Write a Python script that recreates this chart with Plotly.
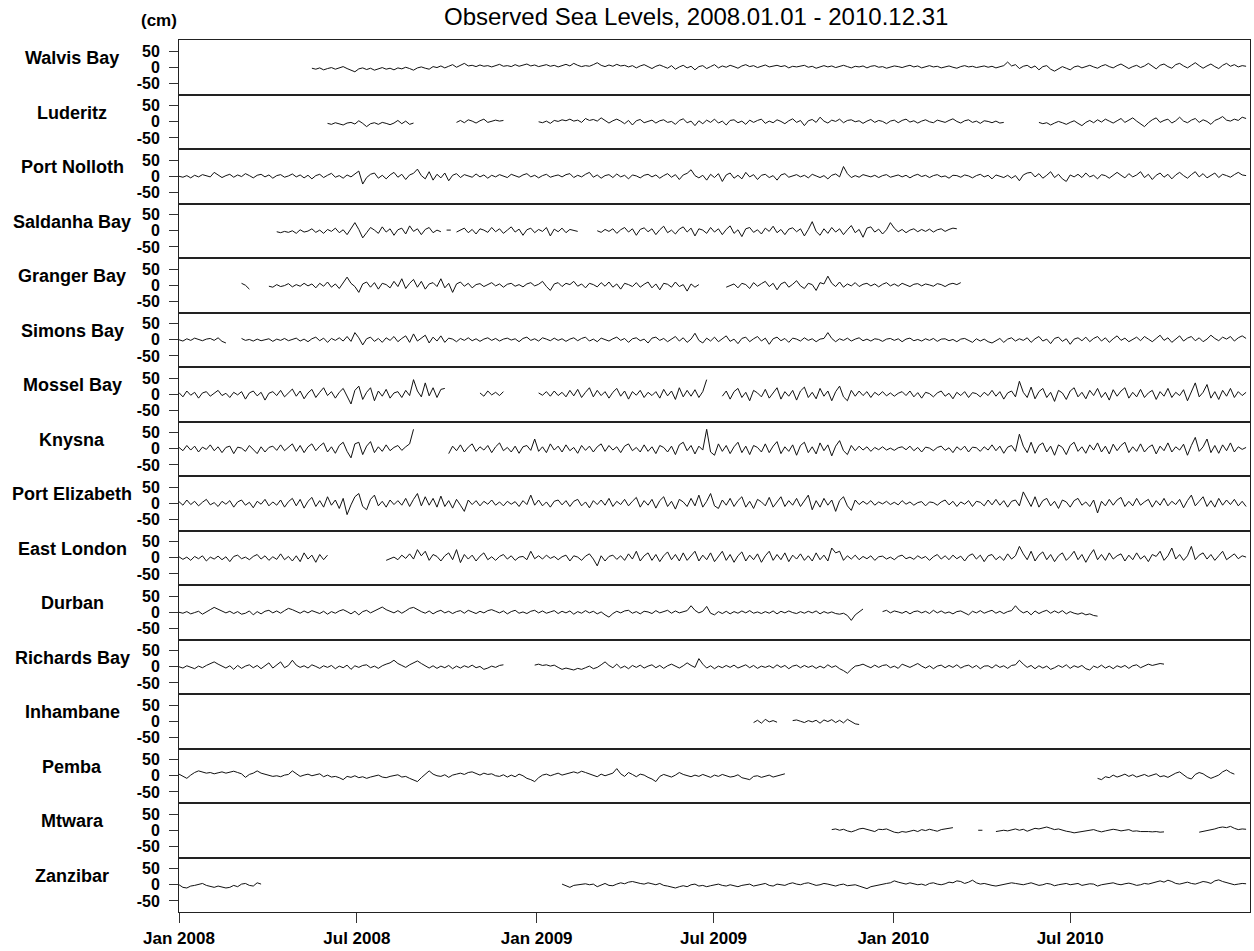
import plotly.graph_objects as go
from plotly.subplots import make_subplots
import pandas as pd

# ---------------- data (cm), sampled every 4 days from 2008-01-01 ----------------
N = 274
dates = pd.date_range("2008-01-01", periods=N, freq="4D")

stations = ["Walvis Bay", "Luderitz", "Port Nolloth", "Saldanha Bay", "Granger Bay",
            "Simons Bay", "Mossel Bay", "Knysna", "Port Elizabeth", "East London",
            "Durban", "Richards Bay", "Inhambane", "Pemba", "Mtwara", "Zanzibar"]

x_tick_dates = ["2008-01-01", "2008-07-01", "2009-01-01", "2009-07-01", "2010-01-01", "2010-07-01"]
x_tick_labels = ["Jan 2008", "Jul 2008", "Jan 2009", "Jul 2009", "Jan 2010", "Jul 2010"]
y_tick_vals = [50, 0, -50]
y_tick_labels = ["50", "0", "-50"]

# each station: list of (start index, values)
walvis = [(34, [-3,-6,-2,-8,-4,-1,-6,-3,2,-4,
                -8,-14,-5,-2,-7,-3,-9,-4,-1,-6,
                -3,-8,-2,-5,0,-4,-9,-2,1,-3,
                -6,2,-1,4,-2,3,8,0,5,12,
                4,6,2,7,3,5,1,6,9,3,
                5,2,8,3,6,10,4,7,2,5,
                8,3,6,1,5,9,4,12,6,2,
                5,3,8,14,6,2,7,3,9,4,
                6,1,5,-2,4,8,2,-4,3,7,
                2,-3,5,-6,1,6,-2,3,-8,2,
                5,-4,2,8,-2,4,0,6,2,-3,
                4,8,2,5,-1,4,7,1,3,6,
                2,5,-2,3,1,4,6,0,3,-3,
                2,5,1,4,-1,3,6,2,-2,3,
                1,4,-2,3,5,0,2,-3,1,4,
                2,-1,3,6,1,4,-2,2,5,1,
                3,-2,2,4,0,-3,2,5,1,3,
                -1,2,4,0,3,-2,1,5,16,4,
                8,-4,3,6,-2,4,-8,2,5,-6,
                -12,-5,2,-3,-8,1,4,-2,3,6,
                1,-3,4,8,2,-2,5,10,3,-4,
                2,6,-1,4,12,3,-5,6,10,2,
                -3,8,12,4,-2,6,14,5,-3,4,
                10,2,-4,6,12,3,8,1,5,3])]

luderitz = [(38, [-5,-8,-3,-6,-10,-4,-2,-7,3,-5,-15,-6,-3,-8,-2,-5,-9,-4,4,-6,2,-8,-4]),
            (71, [-2,4,-3,6,2,-4,3,8,-2,1,5,2,4]),
            (92, [0,-3,2,-5,4,1,6,3,8,2,
                  5,-2,10,4,7,2,12,5,-4,3,
                  8,2,-6,4,-10,3,7,-3,2,5,
                  -4,3,6,-2,1,-8,4,9,-3,2,
                  -12,3,-6,5,-2,8,-4,2,-10,4,
                  6,-3,2,-8,5,-2,4,8,-5,2,
                  -3,6,1,-6,3,9,-2,4,-12,3,
                  7,-2,14,2,-4,5,1,8,-3,4,
                  6,0,3,-5,2,7,-2,4,1,-6,
                  2,5,-3,4,8,-1,3,-4,2,6,
                  0,-3,5,2,-2,4,9,1,-4,3,
                  6,-2,2,-5,3,1,-3,2,-4,-2]),
            (220, [-2,-6,-3,-10,-4,1,-3,-8,-2,3,
                   -5,-12,-2,4,-3,6,-1,8,2,-4,
                   3,10,-2,5,12,2,-6,-15,-3,6,
                   12,-2,4,8,-4,3,14,2,-3,5,
                   10,-2,6,1,-8,4,9,16,5,2,
                   8,4,14,10])]

port_nolloth = [(0, [0,-3,2,-5,3,-2,5,1,-2,12,
                     3,-4,2,6,-3,4,-1,8,2,-5,
                     3,6,-2,4,-6,2,5,-3,1,7,
                     -2,4,-5,3,-8,2,6,-4,3,9,
                     -3,2,-6,4,-2,8,16,-24,-4,6,
                     10,-6,3,-8,4,12,-3,6,-10,4,
                     9,22,2,-8,14,-12,6,-5,10,-14,
                     3,8,-4,5,2,-3,7,-2,4,-6,
                     3,-2,5,1,-4,6,2,-3,4,8,
                     -2,3,-5,2,6,-3,1,4,-2,5,
                     8,-4,3,-2,6,12,-3,4,-6,2,
                     5,-4,7,-2,3,-8,4,1,-5,3,
                     6,-2,4,-6,2,8,-3,5,-10,4,
                     9,20,2,-5,3,-12,6,-4,8,-16,
                     4,10,-6,3,-8,12,-2,5,-10,3,
                     6,-4,2,-12,4,8,-3,2,5,-2,
                     3,-5,6,1,-4,2,-8,3,7,-2,
                     30,8,-4,2,-3,5,1,-2,3,-4,
                     2,5,-3,1,4,-2,3,-5,2,6,
                     -1,3,-4,2,5,-2,1,-6,3,2,
                     -3,4,1,-5,2,6,-2,3,-8,4,
                     1,-4,3,-6,2,-14,4,10,12,-2,
                     8,-6,3,14,-4,6,-8,-16,4,-2,
                     6,-4,10,-2,3,-8,5,2,-6,4,
                     12,3,-5,8,-2,4,14,-4,6,-10,
                     3,10,-3,6,-8,4,12,2,-6,5,
                     14,-2,8,-5,3,10,-4,6,2,-3,
                     5,12,4,2])]

saldanha = [(25, [-3,-6,-2,-5,0,-8,3,-4,-1,6,
                  -5,2,-8,4,-2,8,-6,3,-12,6,
                  25,4,-22,-6,10,2,-8,12,-4,6,
                  -14,3,8,-10,15,-2,6,-12,4,10,
                  -6,2,-3]),
            (69, [2]),
            (71, [-4,2,8,-6,4,-10,6,2,-5,10,
                  -3,6,-8,2,12,-4,5,-14,3,8,
                  -6,4,-2,10,-16,5,-3,8,-6,4,
                  2,-2]),
            (107, [0,-5,4,-2,6,-8,3,10,-4,6,
                   -14,4,9,-3,6,-12,3,14,-6,2,
                   -10,5,12,-4,8,-16,6,2,-8,10,
                   -4,6,-12,4,15,-8,3,-18,6,10,
                   -5,3,-10,8,-2,14,-6,4,-12,5,
                   9,-3,6,-16,4,28,-2,-14,6,-8,
                   10,-4,6,-12,3,16,-6,4,-20,8,
                   12,-4,5,-10,3,25,8,-3,4,-6,
                   2,6,-3,4,-2,5,-4,3,6,-2,
                   4,8,6])]

granger = [(16, [6,0,-12]),
           (23, [-3,-6,2,-4,-1,5,-5,2,-3,6,
                 -2,4,-8,6,-3,10,-6,4,-10,8,
                 25,6,-4,-22,4,10,-6,8,-12,6,
                 2,-8,12,-4,20,-10,6,18,-6,12,
                 -12,4,8,-4,20,-8,6,-22,4,10,
                 -3,6,-8,2,5,-4,3,8,-2,4,
                 -6,3,6,-3,2,-5,4,8,-2,3,
                 12,-4,-16,4,8,-4,6,2,12,-3,
                 4,-8,6,2,-5,8,-3,10,-6,4,
                 -12,6,2,-4,8,-6,3,10,-8,4,
                 -14,6,3,-6,10,-4,2,-18,4,-6,2]),
           (140, [-6,-2,4,-8,6,2,-10,8,-3,5,
                  12,-4,6,-14,4,10,-6,3,14,-2,
                  -10,6,2,-16,8,4,28,6,-4,10,
                  -6,4,-2,8,-4,3,6,-2,4,-5,
                  3,8,-2,4,-3,6,1,-4,3,5,
                  -2,4,1,-3,5,2,-4,3,6,2,8])]

simons = [(0, [0,-4,3,-2,5,1,-3,2,4,-2,6,-5,-10]),
          (16, [4,-2,1,-4,2,-3,0,3,-5,2,
                -2,4,-3,1,5,-4,2,-6,3,8,
                -3,5,-8,4,-2,6,-4,10,-5,22,
                6,-16,3,8,-5,4,-8,6,-2,10,
                -6,4,12,-8,18,-4,6,14,-10,8,
                -4,12,-8,5,2,-6,4,-2,6,-3,
                3,-5,2,6,-2,4,-4,2,5,-1,
                3,-6,4,8,-2,3,-4,6,2,-3,
                5,-2,3,-5,2,6,-3,4,8,-4,
                2,-6,5,1,-4,3,8,-2,4,-8,
                3,6,-3,2,-10,5,8,-2,4,-6,
                3,10,-4,6,-8,2,20,-2,-10,5,
                -4,8,-6,3,12,-5,2,-12,4,8,
                -6,3,10,-4,5,-14,3,8,-3,4,
                -8,5,2,-4,6,-2,3,-6,2,4,
                22,4,-6,3,-2,5,-4,2,6,-3,
                2,-4,3,1,-5,2,4,-2,3,-6,
                2,5,-3,1,-4,3,-2,4,-5,2,
                3,-3,1,-6,2,4,-2,-8,3,-4,
                2,-6,-10,-3,4,-8,2,6,-4,3,
                -2,6,-8,3,10,-4,2,-12,4,8,
                -5,3,-14,2,6,-3,8,-6,4,10,
                -4,6,-8,3,12,-2,5,-6,2,8,
                -3,10,2,-6,4,14,-2,6,-8,3,
                12,-4,5,10,-3,6,-6,2,14,4,
                -3,8,2,10,-4,6,12,4])]

mossel = [(0, [5,-8,10,-3,6,-12,4,8,-6,2,
               12,-4,3,-10,6,-2,8,-15,4,10,
               -5,6,-18,3,8,-4,12,-8,5,16,
               -6,10,-14,4,15,-10,6,20,-4,8,
               -12,6,18,-8,-30,12,25,-16,6,20,
               -20,10,-6,15,-12,4,8,-10,12,-4,
               45,10,-8,35,-5,20,-10,15,18]),
          (77, [4,-6,10,-2,6,-4,8]),
          (92, [4,-3,8,-6,10,-4,6,-8,12,-5,
                15,-10,6,20,-8,12,-4,8,-12,6,
                18,-6,10,-15,8,-3,12,-10,6,-4,
                8,-12,15,-5,10,-16,20,-8,12,-6,
                14,-10,8,45]),
          (139, [-6,10,-15,8,18,-10,6,-20,12,4,
                 -8,15,-12,6,20,-15,8,-6,12,-18,
                 10,22,-10,6,-14,18,-6,10,-20,8,
                 25,-8,-20,12,-6,10,-4,8,-10,6,
                 -3,8,-5,4,-6,3,8,-4,10,-8,
                 5,-12,6,2,-8,4,10,-6,3,-14,
                 6,-4,8,-10,5,2,-8,6,-4,12,
                 -6,8,-15,4,10,-8,40,6,-10,22,
                 -14,8,18,-10,6,-22,12,4,-16,10,
                 20,-8,6,-14,12,-4,18,-10,6,-18,
                 14,-6,10,20,-12,6,-8,15,-10,4,
                 12,-16,8,-6,18,-10,6,-4,14,-20,
                 10,35,-8,6,30,-12,8,-16,12,-6,
                 18,-10,8,-4,6])]

knysna = [(0, [4,-6,10,-4,8,-10,5,-2,12,-6,
               6,-12,4,8,-15,5,2,-8,10,-4,
               -15,6,-10,4,8,-5,12,-6,4,15,
               -8,10,-12,6,15,-6,8,18,-10,6,
               -14,10,20,-8,-28,15,20,-18,8,22,
               -12,6,-8,12,-6,4,10,-5,6,15,60]),
          (69, [-15,8,-6,12,-10,5,15,-8,6,-4,
                10,-12,6,18,-6,4,-10,8,-14,6,
                10,-5,30,-8,6,-12,15,-4,8,-10,
                12,-6,4,-14,10,-5,8,-10,6,15,
                -8,10,-4,6,-12,8,15,-6,4,-10,
                12,-8,6,-15,10,4,-10,8,-18,12,
                20,-6,10,-16,8,-4,60,-10,-20,15,
                -8,10,-15,6,20,-12,8,-18,10,4,
                -10,15,-12,8,22,-15,6,-8,12,-20,
                10,20,-12,6,-16,18,-6,12,-22,8,
                25,-6,-18,10,-6,8,-4,6,-8,4,
                -3,6,-4,2,-5,3,6,-3,8,-6,
                4,-10,5,2,-6,4,8,-5,3,-12,
                6,-4,8,-10,5,3,-8,6,-4,12,
                -6,8,-14,5,10,-8,45,8,-12,20,
                -14,10,18,-10,8,-20,12,4,-18,10,
                20,-8,6,-14,12,-4,18,-10,8,-16,
                14,-6,10,20,-12,6,-8,15,-10,4,
                12,-16,8,-6,18,-10,6,-4,14,-20,
                10,35,-8,6,30,-12,10,-14,12,-6,
                18,-10,6,-2,4])]

port_elizabeth = [(0, [5,-6,10,-4,6,-8,3,12,-5,2,
                       -10,6,-3,8,-12,4,10,-6,3,-14,
                       6,-3,12,-8,4,-6,10,-12,5,15,
                       -8,12,-15,6,18,-10,8,-12,20,-6,
                       10,-16,15,-35,-5,20,30,-10,-20,12,
                       25,-8,6,-12,10,-4,8,-6,15,-10,
                       12,30,-8,20,-6,15,-12,22,-10,8,
                       -15,12,-6,-25,10,-4,8,-8,6,-3,
                       10,-6,4,-8,6,-3,5,-10,8,-4,
                       25,-6,10,-8,4,-12,6,10,-5,8,
                       -10,6,12,-8,4,-14,8,-4,10,-6,
                       15,-10,6,-4,12,-8,6,18,-12,8,
                       -6,12,-15,8,20,-10,6,-18,12,4,
                       -10,15,-8,25,-12,6,30,-8,-16,10,
                       -6,15,-10,8,20,-12,6,-16,12,4,
                       -8,18,-12,6,20,-10,8,-6,15,-10,
                       6,25,-20,8,-12,15,-6,10,-25,8,
                       20,-8,-22,10,-4,6,-3,8,-6,4,
                       -2,6,-4,3,-5,8,-3,4,-6,2,
                       5,-8,4,2,-6,4,10,-5,6,-10,
                       4,-3,8,-10,6,3,-8,10,-5,12,
                       -6,8,-12,6,10,-8,35,10,-10,20,
                       -12,8,15,-8,6,-16,10,4,-12,8,
                       15,-6,4,-10,10,-30,6,-8,12,-6,
                       10,18,-10,6,-8,15,-6,4,12,-12,
                       8,-6,15,-8,6,-4,12,-14,8,25,
                       -8,6,20,-10,8,-12,15,-6,10,-4,
                       12,-8,6,-10])]

east_london = [(0, [3,-5,2,-8,4,-3,6,-10,2,-4,
                    5,-6,3,-12,4,8,-3,2,-6,4,
                    10,-4,6,-8,3,-5,12,-6,4,-10,
                    6,-12,15,-4,8,-14,10,-6,8]),
               (53, [-8,-4,2,-6,8,-2,12,-4,25,6,
                     20,-8,10,4,-10,6,15,-6,25,-15,
                     10,-4,8,-10,5,15,-6,3,-8,4,
                     10,-4,6,-8,2,4,-6,20,-3,6,
                     -4,8,-2,4,-6,3,8,-10,6,2,
                     -8,5,12,-4,-25,6,-10,4,8,-5,
                     6,-8,12,-4,20,-10,6,15,-8,10,
                     -12,6,18,-6,10,-10,15,-8,6,20,
                     -10,8,-6,15,-12,6,20,-8,10,-14,
                     6,18,-10,8,-6,12,-14,6,20,-8,
                     10,-6,15,-12,8,-4,12,-8,6,-10,
                     15,-6,8,-10,30,15,20,-8,6,-4,
                     8,-6,4,-3,6,-8,3,5,-4,2,
                     -6,4,8,-3,2,-5,6,-2,4,-8,
                     3,10,-4,6,-6,8,-3,5,-10,6,
                     12,-4,8,-12,6,10,-6,4,-8,12,
                     -4,6,35,12,-6,20,-10,8,18,-6,
                     10,-12,6,15,-8,4,20,-6,10,-14,
                     8,25,-6,10,-8,15,-4,6,12,-10,
                     8,-6,15,-4,6,-12,10,4,20,-8,
                     6,30,-4,10,-8,6,35,-6,8,15,
                     -4,10,-8,6,20,-6,4,12,-3,6,2])]

durban = [(0, [0,-3,2,-5,-1,3,-6,2,8,15,
               10,4,-2,3,-4,2,-6,-3,4,-8,
               2,-5,3,6,-2,4,-3,5,12,8,
               2,-3,4,-2,5,1,-4,3,-6,2,
               -3,4,8,2,-5,3,-8,2,6,-2,
               4,12,16,8,3,-2,5,-3,4,12,
               15,8,2,-3,4,-5,2,6,-2,3,
               -4,2,5,-3,6,1,-4,3,-2,5,
               8,3,-2,4,-5,2,6,-3,1,-4,
               3,6,-2,4,-3,1,5,-4,3,-2,
               4,-6,2,-3,5,-2,3,-5,1,-8,
               -15,-4,3,-2,4,6,-3,2,-5,3,
               1,-4,5,-2,3,6,-3,4,-2,1,
               5,20,6,-2,3,18,-3,-8,2,-4,
               3,-5,2,-3,4,-2,5,-3,1,-4,
               2,-3,4,-5,3,-2,4,-1,-4,2,
               -3,3,-2,4,-5,2,-3,1,-4,-6,
               -3,-10,-25,-8,2,10]),
          (180, [2,6,-2,4,1,-3,3,-5,2,4,
                 -2,3,-4,6,-2,4,-3,1,-5,2,
                 4,-2,-8,3,-2,5,-3,2,6,-3,
                 3,-4,2,5,20,6,-2,3,-8,4,
                 -4,2,6,-3,4,-2,5,-5,2,-3,
                 -6,-2,-8,-5,-10,-12])]

richards = [(0, [0,-4,3,-2,-6,2,-3,4,10,15,
                 8,2,-4,3,-8,4,-5,2,6,-3,
                 4,-6,2,12,-4,6,15,-3,4,20,
                 5,-2,3,-4,6,1,-5,3,-2,4,
                 -6,2,-3,5,-8,3,-2,4,6,-3,
                 2,-5,3,8,12,20,10,4,-2,6,
                 12,18,10,2,-4,3,-5,2,-3,4,
                 -6,2,-4,3,-2,5,-3,1,-8,-4,
                 2,-2,4,6]),
            (91, [5,8,4,6,2,5,-2,-8,-4,-6,
                  -10,-5,-8,-3,2,-6,-2,6,15,4,
                  -3,8,-4,2,-6,4,-2,5,-4,2,
                  6,-3,4,-5,3,8,2,-4,3,12,
                  4,-2,25,8,-4,3,-6,2,-3,4,
                  -2,5,-4,2,6,-3,4,-5,2,-2,
                  3,-4,6,-2,4,-6,2,5,-3,4,
                  -2,3,-5,2,-4,6,-2,3,-6,-12,
                  -20,-8,2,4,8,2,-3,5,-2,4,
                  6,-3,2,-5,8,3,-2,4,10,2,
                  -4,3,-6,2,5,-3,4,-2,6,-4,
                  2,5,-3,4,-6,2,3,-4,6,-2,
                  3,-5,4,6,20,8,-2,4,-6,3,
                  -4,2,-8,-3,4,-2,6,-5,3,-2,
                  4,-6,-10,2,-3,5,-4,2,-6,3,
                  -2,4,-5,3,6,-3,2,8,4,6,10,8])]

inhambane = [(147, [-4,3,-6,6,-2,2,-3]),
             (157, [2,4,0,-4,2,-2,3,-6,4,-1,5,-4,3,-5,6,0,-8,-10])]

pemba = [(0, [5,-2,-8,2,10,15,12,8,10,6,
              9,12,8,11,14,10,6,-5,4,8,
              15,8,5,2,-2,0,-3,2,4,15,
              6,-2,2,5,0,4,6,-3,2,-4,
              -2,-6,-12,-2,-5,0,-6,-3,-8,-4,
              -2,2,-4,-6,-2,0,3,-4,-2,-8,
              -12,-18,-6,4,15,5,0,-2,3,-5,
              2,5,8,4,10,12,6,2,8,4,
              6,0,-2,3,-4,2,-3,5,0,-8,
              -12,-18,-6,2,5,0,4,8,2,6,
              10,12,8,14,10,6,2,-3,5,0,
              4,8,22,6,-2,10,4,-3,5,2,
              -5,-10,-18,-2,4,0,-4,2,10,4,
              0,-3,2,-2,4,0,-5,2,-2,4,
              0,-4,-2,3,-6,-8,-12,-2,0,-5,
              -2,2,-4,0,3,6]),
         (235, [-8,-12,-3,-6,2,-4,0,5,-2,3,
                -4,0,4,-2,2,6,-3,0,-5,2,
                8,12,2,-6,-10,4,10,6,-2,-8,
                -3,2,12,18,10,5])]

mtwara = [(167, [2,4,0,3,-2,-5,-1,4,6,2,
                 -2,-4,3,2,4,-1,-6,-8,-4,-6,
                 -2,0,-4,2,-1,3,0,-3,2,4,5,8]),
          (205, [0]),
          (209, [-4,-2,0,-2,2,4,0,3,-3,2,
                 6,4,8,10,6,2,4,0,-3,-5,
                 -8,-6,-4,-2,0,2,-2,-5,-2,0,
                 3,1,-2,0,2,-3,-2,-4,-3,-4,-5,-4,-6,-5]),
          (261, [-6,-4,-2,2,4,8,10,8,12,6,2,4,3])]

zanzibar = [(0, [0,-8,-10,-4,-2,0,4,-2,-6,-8,-4,-6,-10,-8,-2,-6,2,4,-2,-4,6,2]),
            (98, [2,-4,-8,-2,0,2,3,0,2,-6,
                  0,4,-2,-3,2,6,3,8,10,6,
                  4,2,6,3,0,4,-2,-4,-8,-10,
                  -6,-3,-6,0,2,-4,-2,-6,-3,0,
                  2,-2,-4,0,-3,-6,-2,0,2,-4,
                  -2,0,4,-2,-4,2,0,-2,3,6,
                  2,0,4,6,2,-2,0,4,2,-2,
                  -4,0,2,-3,-2,0,-4,-8,-12,-6,
                  -3,0,2,4,6,12,8,4,2,6,
                  3,0,2,-2,4,6,2,0,3,8,
                  6,12,10,4,8,14,6,2,4,0,
                  -2,-4,-2,0,2,6,4,2,0,3,
                  6,2,-2,0,4,2,-3,0,2,4,
                  0,2,4,-2,0,3,2,-4,0,2,
                  4,6,2,0,3,5,2,-2,0,4,
                  2,6,10,12,8,14,10,4,2,6,
                  8,4,2,6,10,8,4,12,15,10,6,2,0,2,4,3])]

station_segments = [walvis, luderitz, port_nolloth, saldanha, granger, simons, mossel,
                    knysna, port_elizabeth, east_london, durban, richards, inhambane,
                    pemba, mtwara, zanzibar]


def build(segs):
    arr = [None] * N
    for start, vals in segs:
        for k, v in enumerate(vals):
            if start + k < N:
                arr[start + k] = v
    return arr


# ---------------- figure ----------------
nrows = len(stations)
fig = make_subplots(rows=nrows, cols=1, shared_xaxes=True, vertical_spacing=0)

FONT = "Liberation Sans, Arial, Helvetica, sans-serif"
LINE = "#111111"

for i, segs in enumerate(station_segments):
    r = i + 1
    ys = build(segs)
    fig.add_trace(go.Scatter(x=dates, y=ys, mode="lines", connectgaps=False,
                             line=dict(color=LINE, width=1), showlegend=False,
                             hoverinfo="skip"), row=r, col=1)
    # isolated single samples
    iso_x, iso_y = [], []
    for j, v in enumerate(ys):
        if v is None:
            continue
        prev_none = j == 0 or ys[j - 1] is None
        next_none = j == N - 1 or ys[j + 1] is None
        if prev_none and next_none:
            iso_x.append(dates[j])
            iso_y.append(v)
    if iso_x:
        fig.add_trace(go.Scatter(x=iso_x, y=iso_y, mode="markers",
                                 marker=dict(color=LINE, size=3, symbol="line-ew",
                                             line=dict(color=LINE, width=1)),
                                 showlegend=False, hoverinfo="skip"), row=r, col=1)
    fig.update_yaxes(range=[-84, 84], tickvals=y_tick_vals, ticktext=y_tick_labels,
                     ticks="outside", ticklen=9, tickwidth=1, tickcolor="#333",
                     showline=True, linecolor="#222", linewidth=1, mirror=True,
                     showgrid=False, zeroline=False, fixedrange=True,
                     ticklabelstandoff=6, automargin=False,
                     tickfont=dict(family=FONT, size=16, color="black", weight="bold"),
                     row=r, col=1)
    fig.update_xaxes(range=["2008-01-01", "2011-01-01"], showline=True, linecolor="#222",
                     linewidth=1, mirror=True, showgrid=False, zeroline=False,
                     tickvals=x_tick_dates, ticktext=x_tick_labels,
                     ticks="outside" if r == nrows else "", ticklen=10, tickcolor="#333",
                     showticklabels=(r == nrows), ticklabelstandoff=1, automargin=False,
                     tickfont=dict(family=FONT, size=17, color="black", weight="bold"),
                     row=r, col=1)

W, H = 1254, 951
L, R, T, B = 179, 4, 40, 39
plot_h = H - T - B


def px_x(px):
    return (px - L) / (W - L - R)


def px_y(py):
    return (H - B - py) / plot_h


annotations = []
panel_h = plot_h / nrows
for i, name in enumerate(stations):
    top = T + panel_h * i
    annotations.append(dict(text=name, xref="paper", yref="paper",
                            x=px_x(72), y=px_y(top + 18), xanchor="center", yanchor="middle",
                            showarrow=False,
                            font=dict(family=FONT, size=18, color="black", weight="bold")))

annotations.append(dict(text="Observed Sea Levels, 2008.01.01 - 2010.12.31", xref="paper",
                        yref="paper", x=px_x(696), y=px_y(17), xanchor="center",
                        yanchor="middle", showarrow=False,
                        font=dict(family=FONT, size=24, color="black")))
annotations.append(dict(text="(cm)", xref="paper", yref="paper", x=px_x(159), y=px_y(21),
                        xanchor="center", yanchor="middle", showarrow=False,
                        font=dict(family=FONT, size=17, color="black", weight="bold")))

fig.update_layout(width=W, height=H, margin=dict(l=L, r=R, t=T, b=B),
                  paper_bgcolor="white", plot_bgcolor="white",
                  annotations=annotations, showlegend=False)

fig.write_html("out.html")
